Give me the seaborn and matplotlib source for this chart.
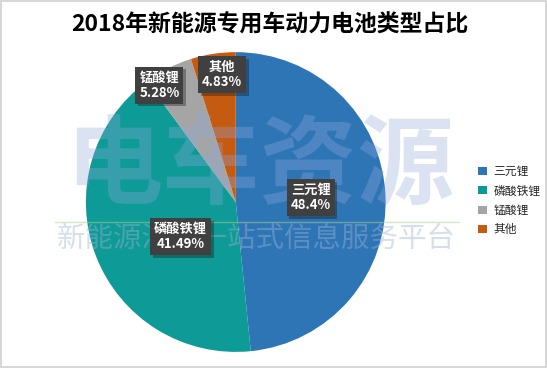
import matplotlib
matplotlib.use("Agg")
import matplotlib.pyplot as plt
import matplotlib.patheffects as pe
from matplotlib.patches import Rectangle
from matplotlib.lines import Line2D
import seaborn as sns

categories = ["三元锂", "磷酸铁锂", "锰酸锂", "其他"]
values = [48.4, 41.49, 5.28, 4.83]
title = "2018年新能源专用车动力电池类型占比"

sns.set_theme(style="white")
plt.rcParams['font.family'] = ['Noto Sans CJK SC', 'DejaVu Sans']

colors = sns.color_palette(["#2E75B6", "#0E9A96", "#A5A5A5", "#C55A11"])

fig = plt.figure(figsize=(5.47, 3.68), dpi=100)
fig.patch.set_facecolor("white")
fig.patches.append(Rectangle((0.001, 0.002), 0.997, 0.995, transform=fig.transFigure,
                             fill=False, edgecolor="#D0D0D0", linewidth=1.2))

ax = fig.add_axes([0.157, 0.0435, 0.548, 0.815])
wedges, _ = ax.pie(values, colors=colors, startangle=90, counterclock=False,
                   radius=1.0, wedgeprops=dict(linewidth=0))
ax.set_xlim(-1, 1)
ax.set_ylim(-1, 1)
ax.set_aspect("equal")
ax.axis("off")

# watermark: over the wedges, beneath the labels
ax.text(0.475, 0.545, "电车资源", ha="center", va="center", fontsize=70,
        fontweight="bold", color="#8FAADC", alpha=0.32, zorder=10,
        transform=fig.transFigure, clip_on=False)
ax.add_line(Line2D([0.10, 0.84], [0.397, 0.397], transform=fig.transFigure,
                   color="#A9D18E", alpha=0.5, linewidth=1, zorder=10, clip_on=False))
ax.text(0.468, 0.352, "新能源汽车一站式信息服务平台", ha="center", va="center",
        fontsize=20.5, color="#9DB3D3", alpha=0.42, zorder=10,
        transform=fig.transFigure, clip_on=False)

# label positions (data coords relative to pie)
label_pos = [(0.50, 0.03), (-0.37, -0.23), (-0.51, 0.78), (-0.09, 0.85)]
for cat, v, (x, y) in zip(categories, values, label_pos):
    t = ax.text(x, y, f"{cat}\n{v:g}%", ha="center", va="center", fontsize=9.5,
                color="white", fontweight="bold", linespacing=1.1, zorder=20,
                bbox=dict(boxstyle="square,pad=0.3", facecolor="#404040",
                          edgecolor="none"))
    t.get_bbox_patch().set_path_effects([pe.SimplePatchShadow(offset=(2, -2), alpha=0.35),
                                         pe.Normal()])

fig.text(0.494, 0.932, title, ha="center", va="center", fontsize=16.5,
         fontweight="bold", color="black")

leg = fig.legend(wedges, categories, loc="center left", bbox_to_anchor=(0.855, 0.455),
                 frameon=False, fontsize=8.5, handlelength=0.7, handleheight=0.7,
                 handletextpad=0.6, labelspacing=0.55)

fig.savefig("out.png", dpi=100)
